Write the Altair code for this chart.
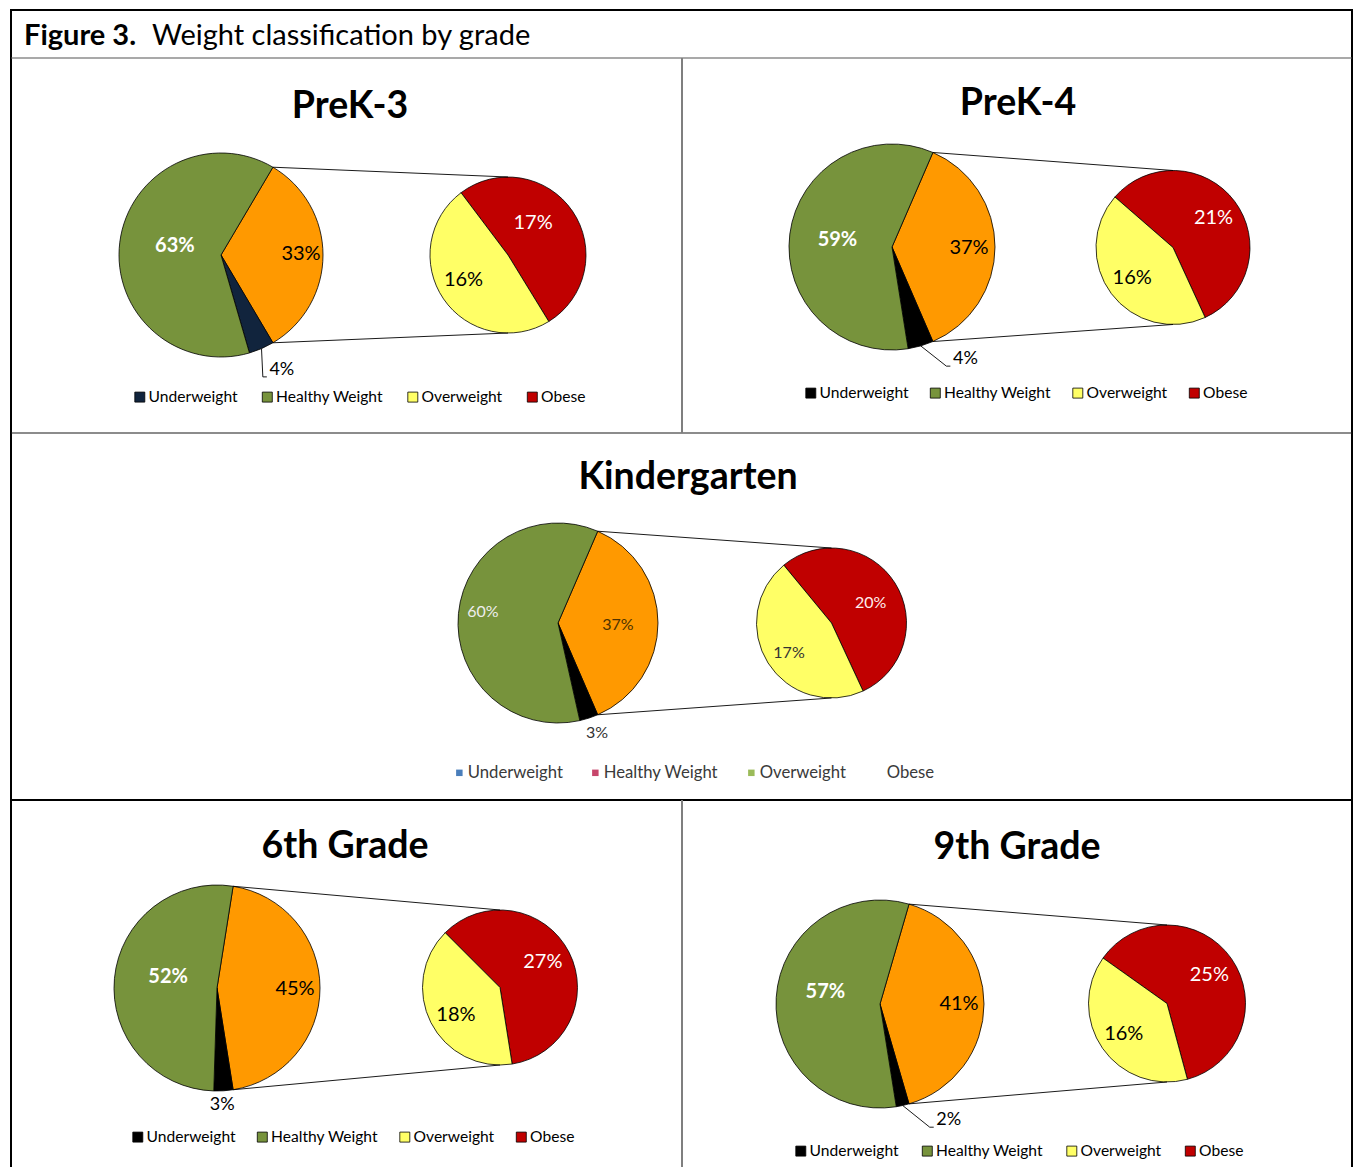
import math

import altair as alt
import pandas as pd

# ---------------------------------------------------------------- data
PANELS = ["PreK-3", "PreK-4", "Kindergarten", "6th Grade", "9th Grade"]
CATEGORIES = ["Underweight", "Healthy Weight", "Overweight", "Obese"]
UNDERWEIGHT = [4, 4, 3, 3, 2]
HEALTHY_WEIGHT = [63, 59, 60, 52, 57]
OVERWEIGHT = [16, 16, 17, 18, 16]
OBESE = [17, 21, 20, 27, 25]

# -------------------------------------------------------------- layout
W, H = 1353, 1167
FONT = "Lato"

# main pie: centre x, centre y, radius
MAIN_PIE = {
    "PreK-3": (221, 255, 102),
    "PreK-4": (892, 247, 103),
    "Kindergarten": (558, 623, 100),
    "6th Grade": (217, 988, 103),
    "9th Grade": (880, 1004, 104),
}
# breakout pie: centre x, centre y, radius, angle (deg) where Obese starts
SUB_PIE = {
    "PreK-3": (508, 255, 78, -37),
    "PreK-4": (1173, 247.5, 77, -49),
    "Kindergarten": (831.5, 623, 75, -39.5),
    "6th Grade": (500, 987.5, 77.5, -45),
    "9th Grade": (1167, 1003.5, 78.5, -54.6),
}
PANEL_TITLE = {
    "PreK-3": (350, 107),
    "PreK-4": (1018, 104),
    "Kindergarten": (688, 478),
    "6th Grade": (345, 847),
    "9th Grade": (1017, 848),
}
# legend: left, top, gap between entries
LEGEND_AT = {
    "PreK-3": (132, 389, 21.5),
    "PreK-4": (803, 385, 18.5),
    "Kindergarten": (451, 764, 24),
    "6th Grade": (130, 1129, 18.5),
    "9th Grade": (793, 1143, 20.5),
}
# data label placement: (distance from centre, angular nudge in degrees)
LABEL_AT = {
    "PreK-3": {"Healthy Weight": (47, 4), "Other": (80, -1), "Underweight": (130, -4.5),
               "Obese": (41, -18), "Overweight": (51, 5)},
    "PreK-4": {"Healthy Weight": (55, 0), "Other": (77, 1), "Underweight": (134, -17),
               "Obese": (50, 1), "Overweight": (51, 0)},
    "Kindergarten": {"Healthy Weight": (76, 3), "Other": (60, 2), "Underweight": (117, -1.5),
                     "Obese": (44, 5), "Overweight": (52, -3)},
    "6th Grade": {"Healthy Weight": (50, 7), "Other": (78, 1), "Underweight": (117, 1),
                  "Obese": (50, -4), "Overweight": (52, -5)},
    "9th Grade": {"Healthy Weight": (56, 9), "Other": (79, 0), "Underweight": (135, -18),
                  "Obese": (51, 1), "Overweight": (53, -0.5)},
}
LEADER_PANELS = {"PreK-3", "PreK-4", "9th Grade"}

GREEN, ORANGE, YELLOW, RED = "#77933C", "#FF9900", "#FFFF66", "#C00000"
UNDER_FILL = {p: "#000000" for p in PANELS}
UNDER_FILL["PreK-3"] = "#11243D"
LEGEND_FILLS = {p: [UNDER_FILL[p], GREEN, YELLOW, RED] for p in PANELS}
LEGEND_FILLS["Kindergarten"] = ["#4A7EBB", "#C7466B", "#9BBB59", "#FFFFFF"]

LABEL_STYLE = {  # colour, weight, size
    "Healthy Weight": ("#FFFFFF", "bold", 20),
    "Other": ("#000000", "normal", 20),
    "Underweight": ("#000000", "normal", 18),
    "Overweight": ("#000000", "normal", 20),
    "Obese": ("#FFFFFF", "normal", 20),
}
K_LABEL_STYLE = {
    "Healthy Weight": ("#EEEEEE", "normal", 16),
    "Other": ("#4D3200", "normal", 16),
    "Underweight": ("#333333", "normal", 16),
    "Overweight": ("#333333", "normal", 16),
    "Obese": ("#FFEDED", "normal", 16),
}


def polar(cx, cy, r, deg):
    a = math.radians(deg)
    return cx + r * math.sin(a), cy - r * math.cos(a)


def pie_layer(df, cx, cy, r, start_deg, total, domain, fills):
    a0 = math.radians(start_deg)
    return (
        alt.Chart(df)
        .mark_arc(radius=r, stroke="#000000", strokeWidth=0.8)
        .encode(
            theta=alt.Theta("value:Q", stack=True,
                            scale=alt.Scale(domain=[0, total], range=[a0, a0 + 2 * math.pi], nice=False)),
            color=alt.Color("category:N", scale=alt.Scale(domain=domain, range=fills), legend=None),
            order=alt.Order("k:Q"),
            x=alt.value(cx),
            y=alt.value(cy),
        )
    )


def legend_layer(panel):
    is_k = panel == "Kindergarten"
    lx0, ly0, gap = LEGEND_AT[panel]
    legend = alt.Legend(
        orient="none", legendX=lx0, legendY=ly0, direction="horizontal", title=None,
        symbolType="square", symbolSize=42 if is_k else 100,
        symbolStrokeColor="#000000", symbolStrokeWidth=0 if is_k else 0.8,
        labelFont=FONT, labelFontSize=16.7 if is_k else 15.6,
        labelColor="#3A3A3A" if is_k else "#000000",
        labelOffset=0 if is_k else 1, columnPadding=gap, padding=0,
    )
    if is_k:
        mark = alt.Chart(pd.DataFrame({"category": CATEGORIES})).mark_square(size=42, opacity=1)
    else:
        mark = alt.Chart(pd.DataFrame({"category": CATEGORIES})).mark_square(
            size=100, opacity=1, stroke="#000000", strokeWidth=0.8)
    # the helper marks sit off-canvas; only the legend shows
    return mark.encode(
        x=alt.value(-100), y=alt.value(-100),
        color=alt.Color("category:N",
                        scale=alt.Scale(domain=CATEGORIES, range=LEGEND_FILLS[panel]),
                        legend=legend),
    )


layers = []
label_rows, connector_rows, leader_rows = [], [], []

for i, panel in enumerate(PANELS):
    u, hw, ov, ob = UNDERWEIGHT[i], HEALTHY_WEIGHT[i], OVERWEIGHT[i], OBESE[i]
    other = ov + ob
    main = [("Other", other), ("Underweight", u), ("Healthy Weight", hw)]
    sub = [("Obese", ob), ("Overweight", ov)]
    main_total = sum(v for _, v in main)
    sub_total = sum(v for _, v in sub)

    cx, cy, r = MAIN_PIE[panel]
    scx, scy, sr, s0 = SUB_PIE[panel]
    a0 = 90 - 180 * other / main_total  # the combined slice faces the breakout pie

    main_df = pd.DataFrame({"category": [c for c, _ in main],
                            "value": [v for _, v in main], "k": [0, 1, 2]})
    sub_df = pd.DataFrame({"category": [c for c, _ in sub],
                           "value": [v for _, v in sub], "k": [0, 1]})
    layers.append(pie_layer(main_df, cx, cy, r, a0, main_total,
                            ["Other", "Underweight", "Healthy Weight"],
                            [ORANGE, UNDER_FILL[panel], GREEN]))
    layers.append(pie_layer(sub_df, scx, scy, sr, s0, sub_total,
                            ["Obese", "Overweight"], [RED, YELLOW]))

    # connector lines from the combined slice to the breakout pie
    a1 = a0 + 360 * other / main_total
    tx, ty = polar(cx, cy, r, a0)
    bx, by = polar(cx, cy, r, a1)
    connector_rows.append({"x": tx, "y": ty, "x2": scx, "y2": scy - sr})
    connector_rows.append({"x": bx, "y": by, "x2": scx, "y2": scy + sr})

    styles = K_LABEL_STYLE if panel == "Kindergarten" else LABEL_STYLE
    # data labels on the main pie
    acc = a0
    for cat, v in main:
        span = 360 * v / main_total
        mid = acc + span / 2
        dist, nudge = LABEL_AT[panel][cat]
        lx, ly = polar(cx, cy, dist, mid + nudge)
        col, wt, size = styles[cat]
        label_rows.append({"x": lx, "y": ly, "text": f"{v}%", "color": col,
                           "weight": wt, "size": size})
        if cat == "Underweight" and panel in LEADER_PANELS:
            ex, ey = polar(cx, cy, r, mid)
            pts = [(ex, ey), (lx - 19, ly + 7), (lx - 15, ly + 7)]
            for step, (px, py) in enumerate(pts):
                leader_rows.append({"panel": panel, "step": step, "x": px, "y": py})
        acc += span
    # data labels on the breakout pie
    acc = s0
    for cat, v in sub:
        span = 360 * v / sub_total
        mid = acc + span / 2
        dist, nudge = LABEL_AT[panel][cat]
        lx, ly = polar(scx, scy, dist, mid + nudge)
        col, wt, size = styles[cat]
        label_rows.append({"x": lx, "y": ly, "text": f"{v}%", "color": col,
                           "weight": wt, "size": size})
        acc += span

    layers.append(legend_layer(panel))

    # panel title
    tx0, ty0 = PANEL_TITLE[panel]
    layers.append(
        alt.Chart(pd.DataFrame({"t": [panel]}))
        .mark_text(font=FONT, fontSize=37.5, fontWeight="bold", color="#000000",
                   align="center", baseline="middle")
        .encode(text="t:N", x=alt.value(tx0), y=alt.value(ty0))
    )

conn_df = pd.DataFrame(connector_rows)
layers.append(
    alt.Chart(conn_df).mark_rule(color="#000000", strokeWidth=0.9).encode(
        x=alt.X("x:Q", scale=None, axis=None), y=alt.Y("y:Q", scale=None, axis=None),
        x2="x2:Q", y2="y2:Q")
)

leader_df = pd.DataFrame(leader_rows)
layers.append(
    alt.Chart(leader_df).mark_line(color="#000000", strokeWidth=0.9).encode(
        x=alt.X("x:Q", scale=None, axis=None), y=alt.Y("y:Q", scale=None, axis=None),
        detail="panel:N", order="step:Q")
)

label_df = pd.DataFrame(label_rows)
for wt in ["normal", "bold"]:
    layers.append(
        alt.Chart(label_df[label_df["weight"] == wt])
        .mark_text(font=FONT, fontWeight=wt, align="center", baseline="middle")
        .encode(
            x=alt.X("x:Q", scale=None, axis=None), y=alt.Y("y:Q", scale=None, axis=None),
            text="text:N",
            color=alt.Color("color:N", scale=None),
            size=alt.Size("size:Q", scale=None),
        )
    )

# figure heading
one = pd.DataFrame({"t": [""]})
layers.append(
    alt.Chart(one).mark_text(text="Figure 3.", font=FONT, fontSize=29, fontWeight="bold",
                             align="left", baseline="middle", color="#000000")
    .encode(x=alt.value(24), y=alt.value(36))
)
layers.append(
    alt.Chart(one).mark_text(text="Weight classification by grade", font=FONT, fontSize=29,
                             align="left", baseline="middle", color="#000000")
    .encode(x=alt.value(152), y=alt.value(36))
)

# frame and panel dividers: (x, y, x2, y2, colour, width)
FRAME = [
    (10, 10, 1353, 10, "#000000", 2),
    (11, 10, 11, 1167, "#000000", 2),
    (1352, 10, 1352, 1167, "#000000", 2),
    (11, 58, 1352, 58, "#555555", 1.2),
    (11, 433, 1352, 433, "#1A1A1A", 1.2),
    (11, 800, 1352, 800, "#000000", 2.2),
    (682, 58, 682, 433, "#7F7F7F", 2),
    (682, 800, 682, 1167, "#7F7F7F", 2),
]
for x1, y1, x2, y2, col, sw in FRAME:
    layers.append(
        alt.Chart(one).mark_rule(color=col, strokeWidth=sw).encode(
            x=alt.value(x1), y=alt.value(y1), x2=alt.value(x2), y2=alt.value(y2))
    )

chart = (
    alt.layer(*layers)
    .resolve_scale(theta="independent", color="independent")
    .properties(width=W, height=H, padding=0, autosize=alt.AutoSizeParams(type="none"))
    .configure(background="#FFFFFF")
    .configure_view(stroke=None)
)

chart.save("out.html", embed_options={"renderer": "svg", "actions": False})
